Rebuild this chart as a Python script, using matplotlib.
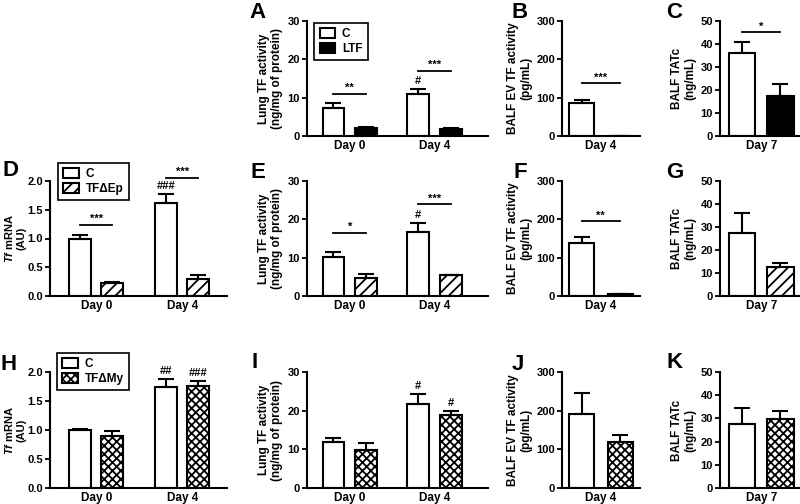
import matplotlib
matplotlib.use('Agg')
import matplotlib.pyplot as plt
import numpy as np
from matplotlib.ticker import FormatStrFormatter

plt.rcParams['font.family'] = ['Liberation Sans', 'DejaVu Sans']
plt.rcParams['font.weight'] = 'bold'
plt.rcParams['mathtext.fontset'] = 'custom'
plt.rcParams['mathtext.it'] = 'Liberation Sans:italic:bold'
plt.rcParams['mathtext.rm'] = 'Liberation Sans:bold'
plt.rcParams['hatch.linewidth'] = 1.3

# data (mean, upper SEM)
days = ['Day 0', 'Day 4']
day_b = ['Day 4']
day_c = ['Day 7']

a_ctrl = [7.4, 10.9]
a_ctrl_err = [1.1, 1.3]
a_ltf = [2.0, 1.8]
a_ltf_err = [0.4, 0.3]
b_ctrl = [85]
b_ctrl_err = [8]
b_ltf = [0]
b_ltf_err = [0]
c_ctrl = [36]
c_ctrl_err = [5]
c_ltf = [17.5]
c_ltf_err = [5.1]

d_ctrl = [1.0, 1.62]
d_ctrl_err = [0.06, 0.16]
d_ep = [0.22, 0.30]
d_ep_err = [0.02, 0.07]
e_ctrl = [10.25, 16.8]
e_ctrl_err = [1.35, 2.2]
e_ep = [4.8, 5.4]
e_ep_err = [0.9, 0.15]
f_ctrl = [137]
f_ctrl_err = [18]
f_ep = [4]
f_ep_err = [2]
g_ctrl = [27.5]
g_ctrl_err = [8.5]
g_ep = [12.7]
g_ep_err = [1.8]

h_ctrl = [1.0, 1.74]
h_ctrl_err = [0.01, 0.14]
h_my = [0.9, 1.76]
h_my_err = [0.09, 0.095]
i_ctrl = [11.9, 21.7]
i_ctrl_err = [1.1, 2.7]
i_my = [9.8, 18.9]
i_my_err = [1.9, 1.0]
j_ctrl = [191]
j_ctrl_err = [56]
j_my = [118]
j_my_err = [19]
k_ctrl = [27.6]
k_ctrl_err = [7.1]
k_my = [29.8]
k_my_err = [3.4]

W, H = 800, 504
fig = plt.figure(figsize=(W / 100, H / 100), dpi=100)

cols = [(50, 177), (307, 181), (562, 78), (720, 80)]
rows = [(21, 115), (181, 115), (372.3, 115.4)]
xlims = [(-2.11, 5.94), (-1.97, 6.37), (-1.55, 1.57), (-1.555, 1.465)]
offs = [0.73, 0.75, 0.77, 0.72]
gpos = [np.array([0, 3.9]), np.array([0, 3.9]), np.array([0]), np.array([0])]


def make_ax(r, c):
    x0, w = cols[c]
    y0, h = rows[r]
    ax = fig.add_axes([x0 / W, 1 - (y0 + h) / H, w / W, h / H])
    for s in ['top', 'right']:
        ax.spines[s].set_visible(False)
    for s in ['left', 'bottom']:
        ax.spines[s].set_linewidth(1.5)
    ax.tick_params(axis='y', direction='out', length=3.5, width=1.3, labelsize=8, pad=1.5)
    ax.tick_params(axis='x', length=0, labelsize=8.5, pad=3)
    ax.set_xlim(*xlims[c])
    return ax


def draw(ax, c, labels, ctrl, ctrl_err, ko, ko_err, ko_color, hatch, names, ylim, yticks, ylabel):
    x = gpos[c]
    o = offs[c]
    ekw = dict(elinewidth=1.5, capthick=1.5, ecolor='black')
    b1 = ax.bar(x - o, ctrl, 1, color='white', edgecolor='black', linewidth=1.5,
                yerr=[np.zeros(len(ctrl)), ctrl_err], capsize=6, error_kw=ekw, label=names[0])
    b2 = ax.bar(x + o, ko, 1, color=ko_color, edgecolor='black', linewidth=1.5, hatch=hatch,
                yerr=[np.zeros(len(ko)), ko_err], capsize=6, error_kw=ekw, label=names[1])
    ax.set_xticks(x)
    ax.set_xticklabels(labels, fontweight='bold')
    ax.set_ylim(*ylim)
    ax.set_yticks(yticks)
    ax.set_ylabel(ylabel, fontsize=8.5, fontweight='bold', labelpad=3, linespacing=1.1)
    return b1, b2


def sig(ax, x1, x2, y, txt):
    ax.plot([x1, x2], [y, y], color='black', lw=1.3, clip_on=False)
    ax.annotate(txt, xy=((x1 + x2) / 2, y), xytext=(0, 0.5), textcoords='offset points',
                ha='center', va='bottom', fontsize=8, fontweight='bold', annotation_clip=False)


def mark(ax, x, y, txt):
    ax.annotate(txt, xy=(x, y), xytext=(0, 2), textcoords='offset points',
                ha='center', va='bottom', fontsize=8, fontweight='bold', annotation_clip=False)


def legend(ax, handles, anchor):
    lg = ax.legend(handles=handles, loc='upper left', bbox_to_anchor=anchor, frameon=True,
                   fancybox=False, edgecolor='black', framealpha=1, handlelength=1.3,
                   handleheight=0.9, handletextpad=0.6, labelspacing=0.25, borderpad=0.45,
                   borderaxespad=0, prop={'weight': 'bold', 'size': 8.5})
    lg.get_frame().set_linewidth(1.2)


lung = 'Lung TF activity\n(ng/mg of protein)'
balf_ev = 'BALF EV TF activity\n(pg/mL)'
tatc = 'BALF TATc\n(ng/mL)'
tf_mrna = '$Tf$ mRNA\n(AU)'
g = gpos[1]

# row 1: LTF
ax = make_ax(0, 1)
hs = draw(ax, 1, days, a_ctrl, a_ctrl_err, a_ltf, a_ltf_err, 'black', None, ['C', 'LTF'],
          (0, 30), [0, 10, 20, 30], lung)
legend(ax, hs, (0.04, 0.985))
sig(ax, g[0] - 0.75, g[0] + 0.75, 11, '**')
sig(ax, g[1] - 0.75, g[1] + 0.75, 17, '***')
mark(ax, g[1] - 0.75, a_ctrl[1] + a_ctrl_err[1], '#')

ax = make_ax(0, 2)
draw(ax, 2, day_b, b_ctrl, b_ctrl_err, b_ltf, b_ltf_err, 'black', None, ['C', 'LTF'],
     (0, 300), [0, 100, 200, 300], balf_ev)
sig(ax, -0.77, 0.77, 138, '***')

ax = make_ax(0, 3)
draw(ax, 3, day_c, c_ctrl, c_ctrl_err, c_ltf, c_ltf_err, 'black', None, ['C', 'LTF'],
     (0, 50), [0, 10, 20, 30, 40, 50], tatc)
sig(ax, -0.72, 0.72, 45, '*')

# row 2: TF delta Ep
g = gpos[0]
ax = make_ax(1, 0)
hs = draw(ax, 0, days, d_ctrl, d_ctrl_err, d_ep, d_ep_err, 'white', '///', ['C', 'TF\u0394Ep'],
          (0, 2), [0, 0.5, 1.0, 1.5, 2.0], tf_mrna)
ax.yaxis.set_major_formatter(FormatStrFormatter('%.1f'))
ax.yaxis.label.set_fontsize(8)
ax.yaxis.set_label_coords(-0.135, 0.5)
legend(ax, hs, (0.045, 1.16))
sig(ax, g[0] - 0.73, g[0] + 0.73, 1.235, '***')
sig(ax, g[1] - 0.73, g[1] + 0.73, 2.06, '***')
mark(ax, g[1] - 0.73, d_ctrl[1] + d_ctrl_err[1], '###')

g = gpos[1]
ax = make_ax(1, 1)
draw(ax, 1, days, e_ctrl, e_ctrl_err, e_ep, e_ep_err, 'white', '///', ['C', 'TF\u0394Ep'],
     (0, 30), [0, 10, 20, 30], lung)
sig(ax, g[0] - 0.75, g[0] + 0.75, 16.5, '*')
sig(ax, g[1] - 0.75, g[1] + 0.75, 23.9, '***')
mark(ax, g[1] - 0.75, e_ctrl[1] + e_ctrl_err[1], '#')

ax = make_ax(1, 2)
draw(ax, 2, day_b, f_ctrl, f_ctrl_err, f_ep, f_ep_err, 'white', '///', ['C', 'TF\u0394Ep'],
     (0, 300), [0, 100, 200, 300], balf_ev)
sig(ax, -0.77, 0.77, 195, '**')

ax = make_ax(1, 3)
draw(ax, 3, day_c, g_ctrl, g_ctrl_err, g_ep, g_ep_err, 'white', '///', ['C', 'TF\u0394Ep'],
     (0, 50), [0, 10, 20, 30, 40, 50], tatc)

# row 3: TF delta My
g = gpos[0]
ax = make_ax(2, 0)
hs = draw(ax, 0, days, h_ctrl, h_ctrl_err, h_my, h_my_err, 'white', 'xxxx', ['C', 'TF\u0394My'],
          (0, 2), [0, 0.5, 1.0, 1.5, 2.0], tf_mrna)
ax.yaxis.set_major_formatter(FormatStrFormatter('%.1f'))
ax.yaxis.label.set_fontsize(8)
ax.yaxis.set_label_coords(-0.135, 0.5)
legend(ax, hs, (0.04, 1.17))
mark(ax, g[1] - 0.73, h_ctrl[1] + h_ctrl_err[1], '##')
mark(ax, g[1] + 0.73, h_my[1] + h_my_err[1], '###')

g = gpos[1]
ax = make_ax(2, 1)
draw(ax, 1, days, i_ctrl, i_ctrl_err, i_my, i_my_err, 'white', 'xxxx', ['C', 'TF\u0394My'],
     (0, 30), [0, 10, 20, 30], lung)
mark(ax, g[1] - 0.75, i_ctrl[1] + i_ctrl_err[1], '#')
mark(ax, g[1] + 0.75, i_my[1] + i_my_err[1], '#')

ax = make_ax(2, 2)
draw(ax, 2, day_b, j_ctrl, j_ctrl_err, j_my, j_my_err, 'white', 'xxxx', ['C', 'TF\u0394My'],
     (0, 300), [0, 100, 200, 300], balf_ev)

ax = make_ax(2, 3)
draw(ax, 3, day_c, k_ctrl, k_ctrl_err, k_my, k_my_err, 'white', 'xxxx', ['C', 'TF\u0394My'],
     (0, 50), [0, 10, 20, 30, 40, 50], tatc)

# panel letters
letters = [('A', 258, 12), ('B', 520, 12), ('C', 674, 13),
           ('D', 10, 170), ('E', 258, 172), ('F', 520, 172), ('G', 675, 172),
           ('H', 9, 364), ('I', 255, 363), ('J', 518, 364), ('K', 675, 362)]
for t, px, py in letters:
    fig.text(px / W, 1 - py / H, t, fontsize=16, fontweight='bold', ha='center', va='center')

fig.savefig('out.png', dpi=100)
